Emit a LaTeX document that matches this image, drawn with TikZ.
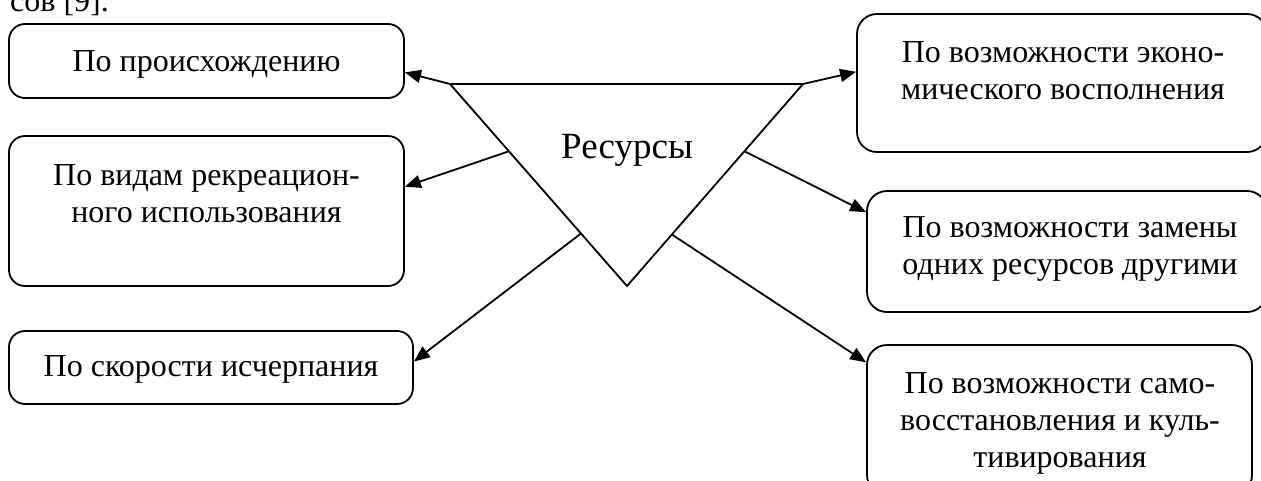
\documentclass[tikz,border=0pt]{standalone}
\usepackage{fontspec}
\setmainfont{Liberation Serif}
\usetikzlibrary{arrows.meta,calc}
\begin{document}
\begin{tikzpicture}[x=1pt,y=-1pt,
  box/.style={draw,line width=1.8pt,rounded corners=16pt,inner sep=0pt},
  txt/.style={align=center,font=\fontsize{32}{37}\selectfont,inner sep=0pt},
  conn/.style={line width=1.8pt,-{Triangle[length=16pt,width=13pt]}},
  tri/.style={line width=1.8pt,line join=miter}]
\useasboundingbox (0,0) rectangle (1261,480);
\begin{scope}
\clip (0,0) rectangle (1261,480);
% clipped caption fragment at the top
\node[txt,anchor=base west] (cap) at (10,11) {сов [9].};
% left boxes
\node[box,minimum width=395pt,minimum height=74pt] (l1) at (206.5,61) {};
\node[txt] (l1t) at ([yshift=-3pt]l1.center) {По происхождению};
\node[box,minimum width=395pt,minimum height=150pt] (l2) at (206.5,211) {};
\node[txt,anchor=north] (l2t) at ([yshift=-29pt]l2.north) {По видам рекреацион-\\ного использования};
\node[box,minimum width=404pt,minimum height=73pt] (l3) at (211,367.5) {};
\node[txt] (l3t) at ([yshift=-2pt]l3.center) {По скорости исчерпания};
% right boxes
\node[box,rounded corners=20pt,minimum width=410pt,minimum height=138pt] (r1) at (1062,83) {};
\node[txt,anchor=north] (r1t) at (1063,41) {По возможности эконо-\\мического восполнения};
\node[box,rounded corners=20pt,minimum width=400pt,minimum height=121pt] (r2) at (1067,251.5) {};
\node[txt] (r2t) at (1070,249) {По возможности замены\\одних ресурсов другими};
\node[box,rounded corners=20pt,minimum width=385pt,minimum height=150pt] (r3) at (1059.5,420) {};
\node[txt,anchor=north] (r3t) at (1060,372) {По возможности само-\\восстановления и куль-\\тивирования};
\end{scope}
% triangle
\coordinate (A) at (450,84);
\coordinate (C) at (803,84);
\coordinate (B) at (627,286);
\draw[tri] (A) -- (C) -- (B) -- cycle;
\node[txt,font=\fontsize{37}{40}\selectfont] (res) at (627,150) {Ресурсы};
% start points on the triangle
\coordinate (s2) at ($(A)!0.333!(B)$);
\coordinate (s3) at ($(A)!0.74!(B)$);
\coordinate (s5) at ($(C)!0.333!(B)$);
\coordinate (s6) at ($(C)!0.745!(B)$);
% end points on the boxes
\coordinate (e1) at ($(l1.north east)!0.65!(l1.south east)$);
\coordinate (e2) at ($(l2.north east)!0.34!(l2.south east)$);
\coordinate (e3) at ($(l3.north east)!0.42!(l3.south east)$);
\coordinate (e4) at ($(r1.north west)!0.42!(r1.south west)$);
\coordinate (e5) at ($(r2.north west)!0.18!(r2.south west)$);
\coordinate (e6) at ($(r3.north west)!0.12!(r3.south west)$);
\draw[conn] (A) -- (e1);
\draw[conn] (s2) -- (e2);
\draw[conn] (s3) -- (e3);
\draw[conn] (C) -- (e4);
\draw[conn] (s5) -- (e5);
\draw[conn] (s6) -- (e6);
\end{tikzpicture}
\end{document}
